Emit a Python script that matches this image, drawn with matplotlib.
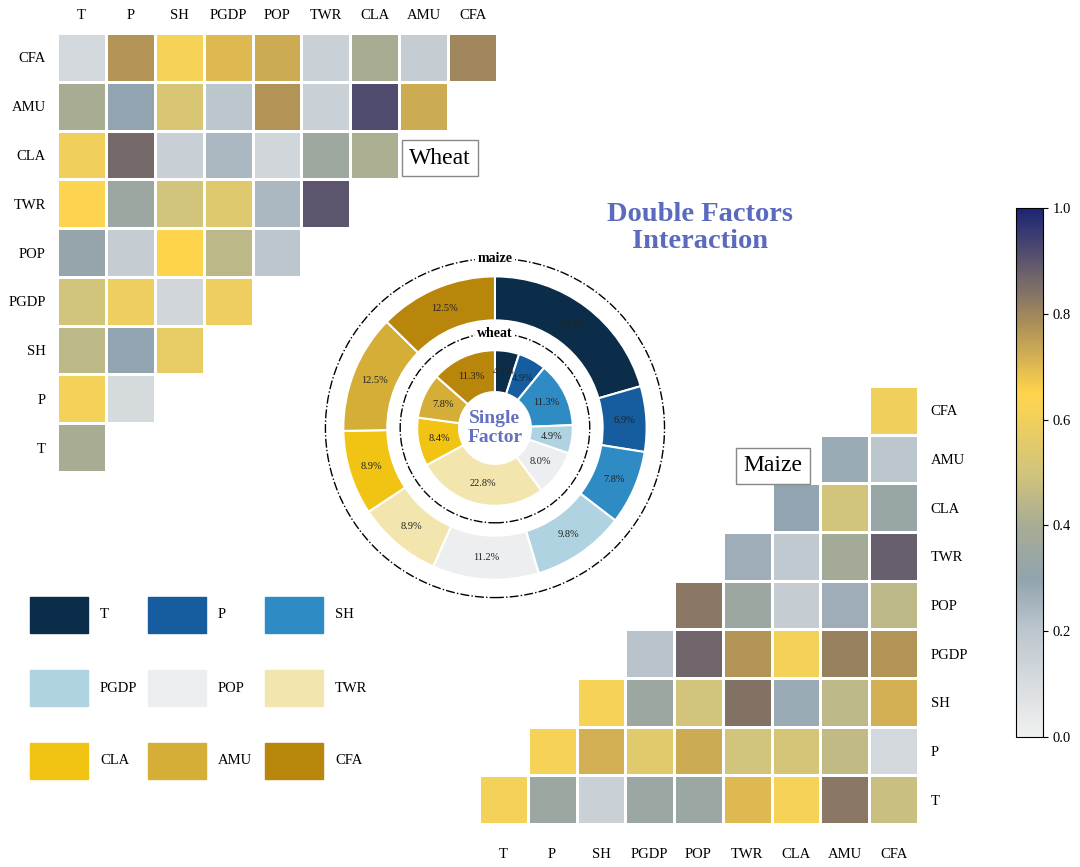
import numpy as np
import matplotlib
matplotlib.use("Agg")
import matplotlib.pyplot as plt
from matplotlib.colors import LinearSegmentedColormap
from matplotlib.patches import Rectangle, Circle

plt.rcParams['font.family'] = ['Liberation Serif', 'DejaVu Serif']

factors = ["T", "P", "SH", "PGDP", "POP", "TWR", "CLA", "AMU", "CFA"]
factor_colors = ["#0b2d4a", "#155d9f", "#2f8bc4", "#b0d3e2", "#eceeef",
                 "#f3e5ae", "#f1c313", "#d4ae37", "#b8860b"]

# single factor q (%)
wheat_single = [4.2, 4.9, 11.3, 4.9, 8.0, 22.8, 8.4, 7.8, 11.3]
maize_single = [20.3, 6.9, 7.8, 9.8, 11.2, 8.9, 8.9, 12.5, 12.5]

# wheat interaction q, row i -> columns 0..i
wheat_q = [
    [0.40],
    [0.61, 0.11],
    [0.45, 0.30, 0.57],
    [0.50, 0.59, 0.13, 0.59],
    [0.32, 0.17, 0.65, 0.45, 0.20],
    [0.64, 0.35, 0.50, 0.54, 0.24, 0.90],
    [0.60, 0.86, 0.16, 0.24, 0.13, 0.36, 0.41],
    [0.40, 0.30, 0.52, 0.20, 0.77, 0.15, 0.92, 0.73],
    [0.12, 0.77, 0.62, 0.70, 0.73, 0.15, 0.40, 0.17, 0.80],
]

# maize interaction q, row i -> columns i..8
maize_q = [
    [0.61, 0.35, 0.15, 0.34, 0.34, 0.70, 0.62, 0.83, 0.48],
    [0.62, 0.72, 0.55, 0.73, 0.50, 0.51, 0.46, 0.12],
    [0.62, 0.35, 0.50, 0.84, 0.28, 0.45, 0.72],
    [0.21, 0.87, 0.77, 0.61, 0.81, 0.77],
    [0.83, 0.35, 0.17, 0.27, 0.45],
    [0.27, 0.19, 0.38, 0.88],
    [0.30, 0.50, 0.33],
    [0.28, 0.20],
    [0.60],
]

cmap = LinearSegmentedColormap.from_list("qcmap", [
    (0.0, "#f0f0f0"), (0.1, "#d8dcdf"), (0.2, "#bcc6cd"), (0.3, "#91a3ae"),
    (0.4, "#a8ac93"), (0.5, "#d2c47c"), (0.65, "#ffd54c"), (0.78, "#ad9058"),
    (0.86, "#776a6a"), (1.0, "#1c2474")])

n = len(factors)
W = np.full((n, n), np.nan)
for i, row in enumerate(wheat_q):
    W[i, :len(row)] = row
M = np.full((n, n), np.nan)
for i, row in enumerate(maize_q):
    M[i, i:] = row

fig = plt.figure(figsize=(10.8, 8.67), dpi=100)

# wheat heatmap
ax1 = fig.add_axes([0.0528, 0.4556, 0.4074, 0.5063])
mesh = ax1.pcolormesh(np.ma.masked_invalid(W), cmap=cmap, vmin=0, vmax=1,
                      edgecolors='white', linewidth=2)
ax1.set_xlim(0, n)
ax1.set_ylim(0, n)
ax1.set_xticks(np.arange(n) + 0.5)
ax1.set_xticklabels(factors)
ax1.set_yticks(np.arange(n) + 0.5)
ax1.set_yticklabels(factors)
ax1.xaxis.tick_top()
ax1.tick_params(length=0, labelsize=10.5)
ax1.tick_params(axis='x', pad=8)
ax1.tick_params(axis='y', pad=8)
for s in ax1.spines.values():
    s.set_visible(False)

# maize heatmap
ax2 = fig.add_axes([0.4435, 0.0496, 0.4065, 0.5052])
ax2.pcolormesh(np.ma.masked_invalid(M), cmap=cmap, vmin=0, vmax=1,
               edgecolors='white', linewidth=2)
ax2.set_xlim(0, n)
ax2.set_ylim(0, n)
ax2.set_xticks(np.arange(n) + 0.5)
ax2.set_xticklabels(factors)
ax2.set_yticks(np.arange(n) + 0.5)
ax2.set_yticklabels(factors)
ax2.yaxis.tick_right()
ax2.tick_params(length=0, labelsize=10.5)
ax2.tick_params(axis='x', pad=17)
ax2.tick_params(axis='y', pad=9)
for s in ax2.spines.values():
    s.set_visible(False)

fig.text(440 / 1080, 1 - 158 / 867, "Wheat", fontsize=17, ha='center', va='center',
         bbox=dict(boxstyle='square,pad=0.3', fc='white', ec='#888888', lw=1))
fig.text(773 / 1080, 1 - 466 / 867, "Maize", fontsize=17, ha='center', va='center',
         bbox=dict(boxstyle='square,pad=0.3', fc='white', ec='#888888', lw=1))

fig.text(700 / 1080, 1 - 228 / 867, "Double Factors\nInteraction", fontsize=20.5,
         fontweight='bold', color='#5b6abf', ha='center', va='center', linespacing=1.15)

# donut
dax = fig.add_axes([0.2898, 0.2964, 0.337, 0.4198])
wp = dict(edgecolor='white', linewidth=1.5)
mw, _ = dax.pie(maize_single, radius=1.0, colors=factor_colors, startangle=90,
                counterclock=False, wedgeprops=dict(width=0.29, **wp))
ww, _ = dax.pie(wheat_single, radius=0.513, colors=factor_colors, startangle=90,
                counterclock=False, wedgeprops=dict(width=0.276, **wp))
for wedges, vals, r in [(mw, maize_single, 0.855), (ww, wheat_single, 0.375)]:
    for w, v in zip(wedges, vals):
        a = np.deg2rad((w.theta1 + w.theta2) / 2)
        dax.text(r * np.cos(a), r * np.sin(a), f"{v:.1f}%", fontsize=7.5,
                 ha='center', va='center', color='#222222')
for r, name in [(1.118, "maize"), (0.625, "wheat")]:
    dax.add_patch(Circle((0, 0), r, fill=False, ls='-.', lw=1, color='black'))
    dax.text(0, r, name, fontsize=10, fontweight='bold', ha='center', va='center',
             bbox=dict(boxstyle='square,pad=0.15', fc='white', ec='none'))
dax.text(0, 0, "Single\nFactor", fontsize=14, fontweight='bold', color='#6471c1',
         ha='center', va='center', linespacing=1.1)
dax.set_xlim(-1.2, 1.2)
dax.set_ylim(-1.2, 1.2)
dax.set_aspect('equal')
dax.axis('off')

# legend
lax = fig.add_axes([0, 1 - 790 / 867, 400 / 1080, 220 / 867])
lax.set_xlim(0, 400)
lax.set_ylim(790, 570)
lax.axis('off')
for k, (name, c) in enumerate(zip(factors, factor_colors)):
    col, row = k % 3, k // 3
    x0 = 30 + col * 117.5
    y0 = 597 + row * 73
    lax.add_patch(Rectangle((x0, y0), 58, 36, color=c))
    lax.text(x0 + 70, y0 + 18, name, fontsize=10.5, va='center', ha='left')

# colorbar
cax = fig.add_axes([0.9407, 0.15, 0.025, 0.61])
cb = fig.colorbar(mesh, cax=cax, ticks=np.arange(0, 1.01, 0.2), format='%.1f')
cb.ax.tick_params(labelsize=10.5)

fig.savefig("out.png", dpi=100, facecolor='white')
